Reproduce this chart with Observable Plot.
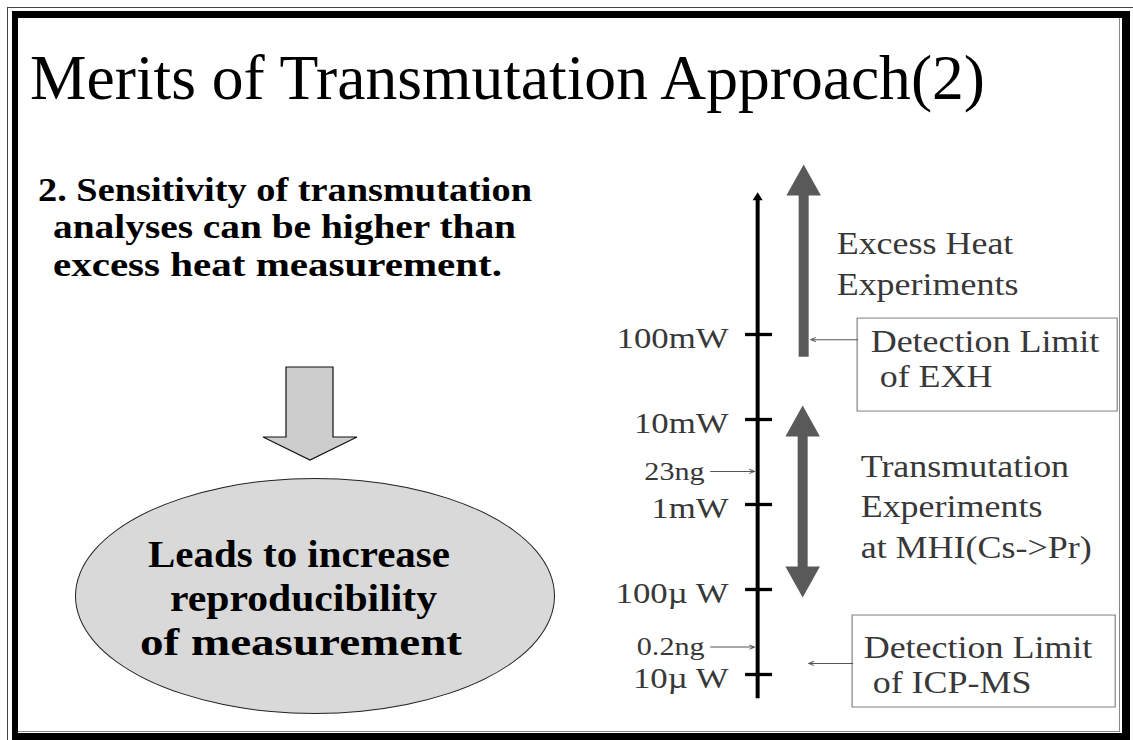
<!DOCTYPE html>
<html>
<head>
<meta charset="utf-8">
<script src="https://cdn.jsdelivr.net/npm/d3@7"></script>
<script src="https://cdn.jsdelivr.net/npm/@observablehq/plot@0.6"></script>
<style>
  html, body { margin: 0; padding: 0; background: #fff; }
  #page { position: relative; width: 1133px; height: 740px; overflow: hidden; background: #fff;
          font-family: "Liberation Serif", "Times New Roman", serif; }
  .abs { position: absolute; }
  .t { position: absolute; white-space: nowrap; line-height: 1; color: #000; transform-origin: 0 0; }
  .b { font-weight: bold; }
  #chartwrap { position: absolute; left: 580px; top: 150px; width: 470px; height: 570px;
               transform: scaleX(1.16); transform-origin: 0 0; }
</style>
</head>
<body>
<div id="page">
  <!-- slide frame -->
  <div class="abs" style="left:7px;top:7px;width:1140px;height:750px;border-left:1.5px solid #444;border-top:1.5px solid #444;"></div>
  <div class="abs" style="left:12px;top:11px;width:1118px;height:729px;box-sizing:border-box;border-style:solid;border-color:#000;border-width:7px 8px 7px 6px;"></div>
  <div class="abs" style="left:18px;top:18px;width:1102px;height:714px;box-sizing:border-box;border-right:1px solid #888;border-bottom:1px solid #888;"></div>

  <!-- left panel shapes -->
  <svg class="abs" style="left:0;top:0" width="1133" height="740">
    <polygon points="286,367 333,367 333,437 357,437 310,460 263,437 286,437"
             fill="#cdcdcd" stroke="#111" stroke-width="1.2"/>
  </svg>
  <div class="abs" style="left:75px;top:478px;width:480px;height:236px;box-sizing:border-box;border-radius:50%;background:#d9d9d9;border:1.2px solid #222;"></div>

  <!-- slide texts: data-x1/x2 = horizontal extent, data-base = baseline -->
  <div class="t" data-x1="30" data-x2="985" data-base="100" style="font-size:64px;">Merits of Transmutation Approach(2)</div>
  <div class="t b" data-x1="38" data-x2="532" data-base="201" style="font-size:34px;">2. Sensitivity of transmutation</div>
  <div class="t b" data-x1="53" data-x2="516" data-base="238" style="font-size:34px;">analyses can be higher than</div>
  <div class="t b" data-x1="53" data-x2="502" data-base="276" style="font-size:34px;">excess heat measurement.</div>
  <div class="t b" data-x1="148" data-x2="450" data-base="567" style="font-size:38px;">Leads to increase</div>
  <div class="t b" data-x1="170" data-x2="437" data-base="611" style="font-size:38px;">reproducibility</div>
  <div class="t b" data-x1="140" data-x2="462" data-base="655" style="font-size:38px;">of measurement</div>

  <div id="chartwrap"></div>
</div>
<script>
// ---------- data (in watts) ----------
const tickLabels = ["100mW", "10mW", "1mW", "100µ W", "10µ W"];
const tickWatts = [1e-1, 1e-2, 1e-3, 1e-4, 1e-5];

const massLabels = ["23ng", "0.2ng"];
const massWatts = [2.45e-3, 2.1e-5];

const axisExtent = [5.2e-6, 4.7];              // bottom, top (arrow tip) of the power axis
const excessHeatExtent = [0.054, 10];          // Excess heat experiments arrow
const transmutationExtent = [8.05e-5, 0.0146]; // Transmutation experiments double arrow

const rangeLabels = ["Excess Heat\nExperiments", "Transmutation\nExperiments\nat MHI(Cs->Pr)"];
const rangeLabelWatts = [0.72, 1e-3];

const limitLabels = ["Detection Limit\n\u00a0of EXH", "Detection Limit\n\u00a0of ICP-MS"];
const limitWatts = [0.087, 1.35e-5];           // where each detection limit points
const limitLabelWatts = [0.0527, 1.32e-5];
const limitBoxTop = [0.154, 4.94e-5];
const limitBoxBottom = [0.0124, 4.09e-6];

// ---------- layout (horizontal positions, in page pixels) ----------
const K = 1.16; // horizontal stretch of the slide drawing
const LAY = {
  axisX: 757, tickX1: 745, tickX2: 772, labelX: 728,
  massTextX: 704, massArrowX1: 710, massArrowX2: 754,
  excessX: 803, transX: 802, rangeTextX: [836, 860],
  boxX1: [857, 852], boxX2: [1117, 1115], boxTextX: [870, 863], leaderX2: [810, 808]
};

// ---------- slide text placement ----------
document.querySelectorAll(".t").forEach(el => {
  const size = parseFloat(el.style.fontSize);
  const x1 = +el.dataset.x1, x2 = +el.dataset.x2, base = +el.dataset.base;
  el.style.left = x1 + "px";
  el.style.top = (base - 0.8375 * size) + "px";
  const w = el.getBoundingClientRect().width;
  el.style.transform = `scaleX(${(x2 - x1) / w})`;
});

// ---------- tables ----------
const ticks = tickWatts.map((w, i) => ({w, label: tickLabels[i]}));
const masses = massWatts.map((w, i) => ({w, label: massLabels[i]}));
const ranges = rangeLabels.map((label, i) => ({label, w: rangeLabelWatts[i], x: LAY.rangeTextX[i]}));
const limits = limitLabels.map((label, i) => ({
  label, w: limitWatts[i], lw: limitLabelWatts[i], top: limitBoxTop[i], bottom: limitBoxBottom[i],
  x1: LAY.boxX1[i], x2: LAY.boxX2[i], tx: LAY.boxTextX[i], ax: LAY.leaderX2[i]
}));
const heads = [
  {x: LAY.excessX, w: excessHeatExtent[1], rot: 0},
  {x: LAY.transX, w: transmutationExtent[1], rot: 0},
  {x: LAY.transX, w: transmutationExtent[0], rot: 180}
];

// arrowhead symbol with its tip at the anchor point
const headSymbol = (ratio) => ({
  draw(ctx, size) {
    const h = Math.sqrt(size / Math.PI), w = h * ratio;
    ctx.moveTo(0, 0); ctx.lineTo(w, h); ctx.lineTo(-w, h); ctx.closePath();
  }
});

const darkArrow = "#595959";
const textGray = "#383838";

const chart = Plot.plot({
  width: 470, height: 570,
  marginTop: 0, marginRight: 0, marginBottom: 0, marginLeft: 0,
  x: {domain: [580, 1125], axis: null},
  y: {type: "log", domain: [1e-5, 1e-1], range: [524, 184], axis: null},
  style: {fontFamily: '"Liberation Serif", "Times New Roman", serif', background: "transparent", overflow: "visible"},
  marks: [
    // detection-limit boxes
    Plot.rect(limits, {x1: "x1", x2: "x2", y1: "top", y2: "bottom", fill: "white", stroke: "#7f7f7f", strokeWidth: 1}),
    Plot.text(limits, {x: "tx", y: "lw", text: "label", textAnchor: "start", fontSize: 31, lineHeight: 1.12, fill: textGray}),
    Plot.arrow(limits, {x1: "x1", x2: "ax", y1: "w", y2: "w", stroke: "#555", strokeWidth: 1, headLength: 7, headAngle: 50}),
    // experiment ranges (thick grey arrows); y1 = top end, y2 = bottom end
    Plot.ruleX([excessHeatExtent], {x: LAY.excessX, y1: d => d[1], y2: d => d[0], stroke: darkArrow, strokeWidth: 10 / K, insetTop: 27}),
    Plot.ruleX([transmutationExtent], {x: LAY.transX, y1: d => d[1], y2: d => d[0], stroke: darkArrow, strokeWidth: 10 / K, insetTop: 27, insetBottom: 27}),
    Plot.dot(heads, {x: "x", y: "w", r: 31, symbol: headSymbol(0.48), rotate: "rot", fill: darkArrow, stroke: "none"}),
    Plot.text(ranges, {x: "x", y: "w", text: "label", textAnchor: "start", fontSize: 31, lineHeight: 1.3, fill: textGray}),
    // power axis
    Plot.ruleX([axisExtent], {x: LAY.axisX, y1: d => d[1], y2: d => d[0], stroke: "black", strokeWidth: 4 / K, insetTop: 6}),
    Plot.dot([axisExtent], {x: LAY.axisX, y: d => d[1], r: 8, symbol: headSymbol(0.54), fill: "black", stroke: "none"}),
    Plot.ruleY(ticks, {y: "w", x1: LAY.tickX1, x2: LAY.tickX2, stroke: "black", strokeWidth: 3.3}),
    Plot.text(ticks, {x: LAY.labelX, y: "w", text: "label", textAnchor: "end", fontSize: 30, dy: 4, fill: textGray}),
    // mass equivalents
    Plot.text(masses, {x: LAY.massTextX, y: "w", text: "label", textAnchor: "end", fontSize: 26, fill: textGray}),
    Plot.arrow(masses, {x1: LAY.massArrowX1, x2: LAY.massArrowX2, y1: "w", y2: "w", stroke: "#555", strokeWidth: 1, headLength: 7, headAngle: 50})
  ]
});
document.getElementById("chartwrap").appendChild(chart);
</script>
</body>
</html>
